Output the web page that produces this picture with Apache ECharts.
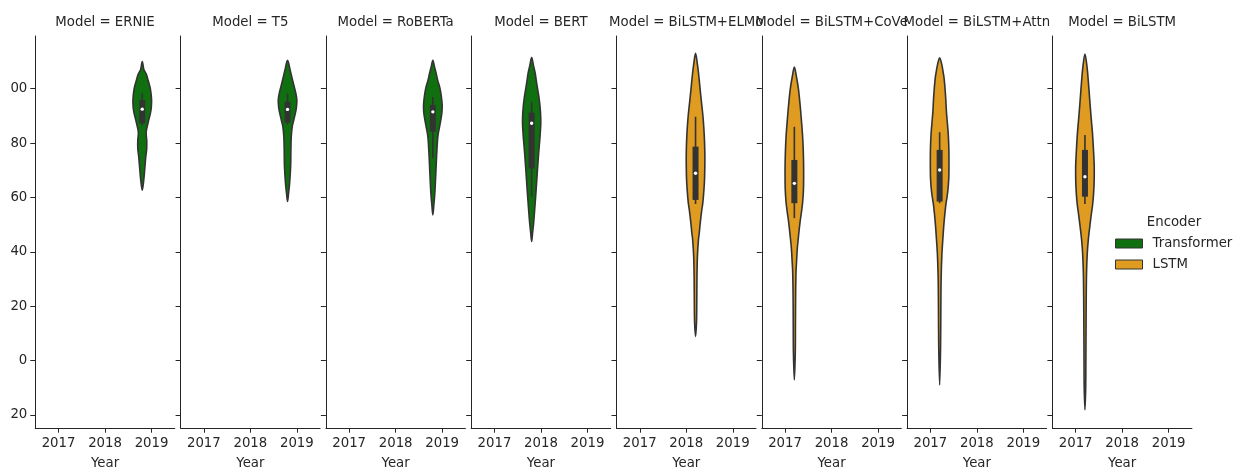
<!DOCTYPE html>
<html>
<head>
<meta charset="utf-8">
<script src="https://cdn.jsdelivr.net/npm/echarts@6/dist/echarts.min.js"></script>
<style>
  html, body { margin: 0; padding: 0; background: #ffffff; }
  #chart { width: 1237px; height: 468px; }
</style>
</head>
<body>
<div id="chart"></div>
<script>
// ---- data ----
const years = ['2017', '2018', '2019'];
const models = ['ERNIE', 'T5', 'RoBERTa', 'BERT', 'BiLSTM+ELMo', 'BiLSTM+CoVe', 'BiLSTM+Attn', 'BiLSTM'];
const modelYear = ['2019', '2019', '2019', '2018', '2018', '2017', '2017', '2017'];
const modelEncoder = ['Transformer', 'Transformer', 'Transformer', 'Transformer', 'LSTM', 'LSTM', 'LSTM', 'LSTM'];
const encoders = ['Transformer', 'LSTM'];
const yTicks = [-20, 0, 20, 40, 60, 80, 100];

// inner box per model: [lower whisker, q1, median, q3, upper whisker]
const boxErnie   = [86.5, 87.3, 92.5, 95.8, 98.3];
const boxT5      = [86.8, 87.5, 92.4, 95.2, 98.3];
const boxRoberta = [74.4, 84.2, 91.5, 94.0, 97.0];
const boxBert    = [60.3, 70.7, 87.3, 91.2, 95.2];
const boxElmo    = [57.6, 59.1, 68.9, 78.7, 89.7];
const boxCove    = [52.4, 57.9, 65.2, 73.8, 86.0];
const boxAttn    = [57.9, 58.5, 70.1, 77.5, 84.0];
const boxBilstm  = [57.6, 60.3, 67.6, 77.5, 83.0];

// violin outline per model: [score, relative half-width (1 = widest)]
const densityErnie = [[110, 0], [107, 0.18], [105.5, 0.42], [103, 0.64], [100, 0.87], [96, 1.0], [93, 0.97],
  [91, 0.88], [87.4, 0.62], [84, 0.42], [81, 0.48], [78, 0.48], [75, 0.38], [71, 0.28], [67, 0.18], [62.7, 0]];
const densityT5 = [[110.5, 0], [107, 0.27], [104, 0.48], [102, 0.62], [98.5, 0.88], [95.8, 1.0], [93, 0.95],
  [91, 0.84], [88.5, 0.67], [86, 0.5], [82.4, 0.4], [77.5, 0.36], [71.3, 0.33], [65.2, 0.22], [61.5, 0.11], [58.5, 0]];
const densityRoberta = [[110.5, 0], [108, 0.18], [105.7, 0.35], [103, 0.53], [100.7, 0.73], [97.5, 0.9], [94, 1.0],
  [91.5, 0.98], [89, 0.88], [86, 0.72], [83.5, 0.58], [81, 0.5], [75, 0.4], [69, 0.32], [61.5, 0.21], [57, 0.1], [53.6, 0]];
const densityBert = [[111.5, 0], [108.5, 0.2], [105.7, 0.38], [102.5, 0.52], [99.5, 0.66], [96.5, 0.8], [93.4, 0.9],
  [90, 0.97], [87, 0.98], [82.4, 0.9], [76.2, 0.75], [68.9, 0.6], [62.8, 0.48], [56.6, 0.35], [50.5, 0.21], [47, 0.1], [43.8, 0]];
const densityElmo = [[113, 0], [109, 0.2], [105.7, 0.32], [99.5, 0.5], [94, 0.67], [89.7, 0.8], [85, 0.9], [81, 0.96],
  [76, 1.0], [72.6, 1.0], [67, 0.97], [62.8, 0.9], [58, 0.78], [55.4, 0.67], [50.5, 0.5], [47, 0.4], [44.4, 0.31],
  [38.2, 0.2], [30, 0.15], [20, 0.13], [13.8, 0.1], [8.8, 0]];
const densityCove = [[108, 0], [104.5, 0.22], [100.1, 0.43], [94, 0.62], [87.9, 0.77], [83, 0.88], [78.1, 0.95], [73, 0.99],
  [68.3, 1.0], [63, 0.98], [58.5, 0.9], [54.5, 0.76], [51.1, 0.62], [46.2, 0.46], [41.3, 0.32], [36, 0.23], [32.7, 0.18],
  [25, 0.14], [14.3, 0.12], [3, 0.1], [-7.1, 0]];
const densityAttn = [[111.4, 0], [108.7, 0.24], [106, 0.38], [103.8, 0.48], [97.7, 0.63], [91.5, 0.73], [87, 0.84], [83, 0.93],
  [79, 0.98], [75.6, 1.0], [71, 1.0], [67, 0.98], [62.1, 0.87], [57.2, 0.66], [51.1, 0.48], [45, 0.35], [38.9, 0.24],
  [30.3, 0.16], [20, 0.13], [5, 0.1], [-9, 0]];
const densityBilstm = [[112.8, 0], [108.1, 0.22], [102, 0.38], [97, 0.49], [93.4, 0.57], [88, 0.7], [83.6, 0.81], [78, 0.91],
  [74, 0.97], [71.3, 1.0], [66, 0.99], [61.5, 0.93], [57.5, 0.83], [54.2, 0.7], [49.3, 0.52], [44.4, 0.36], [39.5, 0.25],
  [32.1, 0.17], [20, 0.13], [0, 0.1], [-10, 0.08], [-18.1, 0]];

const boxes = [boxErnie, boxT5, boxRoberta, boxBert, boxElmo, boxCove, boxAttn, boxBilstm];
const densities = [densityErnie, densityT5, densityRoberta, densityBert, densityElmo, densityCove, densityAttn, densityBilstm];

// ---- styling / layout ----
const encoderColors = { Transformer: '#107010', LSTM: '#df9c20' };
const inkColor = '#262626';
const violinLine = '#333333';
const fontFamily = 'DejaVu Sans';
const fontSize = 13.3;
const panelLeft0 = 35.3, panelStep = 145.3, panelWidth = 139.5;
const panelTop = 36, panelHeight = 392;
const yMin = -24.8, yMax = 119.4;

const chart = echarts.init(document.getElementById('chart'), null, { renderer: 'canvas' });

const grids = [], xAxes = [], yAxes = [], series = [], graphics = [];

models.forEach((m, i) => {
  const left = panelLeft0 + panelStep * i;
  grids.push({ left: left, top: panelTop, width: panelWidth, height: panelHeight,
               containLabel: false, outerBoundsMode: 'none' });
  xAxes.push({
    type: 'category', gridIndex: i, data: years, boundaryGap: true, position: 'bottom',
    axisLine: { show: true, onZero: false, lineStyle: { color: inkColor, width: 1 } },
    axisTick: { show: true, alignWithLabel: true, length: 4.7, lineStyle: { color: inkColor, width: 1 } },
    axisLabel: { color: inkColor, fontFamily, fontSize, margin: 9 },
    name: 'Year', nameLocation: 'middle', nameGap: 29,
    nameTextStyle: { color: inkColor, fontFamily, fontSize },
    splitLine: { show: false }
  });
  yAxes.push({
    type: 'value', gridIndex: i, min: yMin, max: yMax,
    axisLine: { show: true, onZero: false, lineStyle: { color: inkColor, width: 1 } },
    axisTick: { show: true, length: 5, customValues: yTicks, lineStyle: { color: inkColor, width: 1 } },
    axisLabel: {
      show: i === 0, customValues: yTicks, color: inkColor, fontFamily, fontSize, margin: 8,
      formatter: v => (v < 0 ? '\u2212' + Math.abs(v) : String(v))
    },
    splitLine: { show: false }
  });
  series.push({
    type: 'custom', name: modelEncoder[i], xAxisIndex: i, yAxisIndex: i,
    itemStyle: { color: encoderColors[modelEncoder[i]] },
    data: [[years.indexOf(modelYear[i])].concat(boxes[i])],
    renderItem: (params, api) => {
      const k = params.seriesIndex;
      const xi = api.value(0);
      const band = api.size([1, 0])[0];
      const dodge = modelEncoder[k] === 'Transformer' ? -0.2 : 0.2;
      const cx = api.coord([xi, 0])[0] + dodge * band;
      const maxHalf = 0.2 * band;
      const dens = densities[k];
      const yOf = v => api.coord([xi, v])[1];
      const right = dens.map(d => [cx + d[1] * maxHalf, yOf(d[0])]);
      const left = dens.slice(1, -1).reverse().map(d => [cx - d[1] * maxHalf, yOf(d[0])]);
      const [lo, q1, med, q3, hi] = [api.value(1), api.value(2), api.value(3), api.value(4), api.value(5)];
      return {
        type: 'group',
        children: [
          {
            type: 'polygon',
            shape: { points: right.concat(left), smooth: 0.35 },
            style: { fill: encoderColors[modelEncoder[k]], stroke: violinLine, lineWidth: 1.6 }
          },
          {
            type: 'line',
            shape: { x1: cx, y1: yOf(lo), x2: cx, y2: yOf(hi) },
            style: { stroke: violinLine, lineWidth: 1.6 }
          },
          {
            type: 'rect',
            shape: { x: cx - 3, y: yOf(q3), width: 6, height: yOf(q1) - yOf(q3) },
            style: { fill: violinLine }
          },
          {
            type: 'circle',
            shape: { cx: cx, cy: yOf(med), r: 1.7 },
            style: { fill: '#ffffff' }
          }
        ]
      };
    }
  });
  graphics.push({
    type: 'text', x: left + panelWidth / 2, y: 23,
    style: { text: 'Model = ' + m, fill: inkColor, font: fontSize + 'px "' + fontFamily + '"',
             textAlign: 'center', textVerticalAlign: 'middle' }
  });
});

// legend heading
graphics.push({
  type: 'text', x: 1174, y: 223,
  style: { text: 'Encoder', fill: inkColor, font: fontSize + 'px "' + fontFamily + '"',
           textAlign: 'center', textVerticalAlign: 'middle' }
});
// figure left edge trims the y tick labels
graphics.push({
  type: 'rect', left: 0, top: 0, z: 100,
  shape: { width: 11, height: 468 }, style: { fill: '#ffffff' }
});

chart.setOption({
  animation: false,
  backgroundColor: '#ffffff',
  textStyle: { fontFamily },
  grid: grids,
  xAxis: xAxes,
  yAxis: yAxes,
  legend: {
    orient: 'vertical', left: 1115, top: 237, padding: 0, itemWidth: 27, itemHeight: 9, itemGap: 8,
    icon: 'rect', selectedMode: false,
    textStyle: { color: inkColor, fontFamily, fontSize, padding: [0, 0, 0, 5] },
    data: encoders.map(e => ({
      name: e, itemStyle: { color: encoderColors[e], borderColor: violinLine, borderWidth: 1 }
    }))
  },
  graphic: graphics,
  series: series
});
</script>
</body>
</html>
